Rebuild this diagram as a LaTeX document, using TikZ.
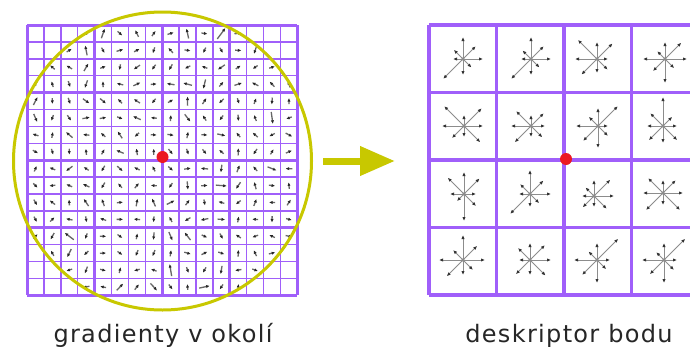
\documentclass[tikz,border=0pt]{standalone}
\usepackage{fontspec}
\setmainfont{DejaVu Sans}
\newfontfamily\labelfont[LetterSpace=5.5]{DejaVu Sans}
\usetikzlibrary{arrows.meta}
\definecolor{gridc}{RGB}{160,95,250}
\definecolor{ylw}{RGB}{200,200,0}
\definecolor{reddot}{RGB}{235,25,35}
\tikzset{
  thingrid/.style={draw=gridc, line width=1.5pt},
  thickgrid/.style={draw=gridc, line width=3pt},
  descgrid/.style={draw=gridc, line width=3.5pt},
  grad/.style={draw=black!60, line width=1.3pt, -{Latex[length=3.6pt,width=3.2pt,color=black!85]}},
  histo/.style={draw=black!45, line width=1pt, -{Latex[length=4pt,width=3.4pt,color=black!80]}},
  lbl/.style={font=\labelfont\fontsize{24}{28}\selectfont, anchor=base, text=black!85, inner sep=0pt},
  keydot/.style={circle, fill=reddot, minimum size=12pt, inner sep=0pt},
}
\newcommand\histcell[3]{%
  \fill[black!80] (#1,#2) circle (1.6pt);
  \foreach \r [count=\k from 0] in {#3}{%
    \draw[histo] (#1,#2) -- ++({cos(45*\k)*\r},{-sin(45*\k)*\r});
  }%
}
\begin{document}
\begin{tikzpicture}[x=1pt,y=-1pt]
\useasboundingbox (0,0) rectangle (690,351);
\fill[white] (0,0) rectangle (690,351);
% ---------- left grid ----------
\foreach \k in {0,...,16}{
  \draw[thingrid] ({27+16.9*\k},25) -- ({27+16.9*\k},295.4);
  \draw[thingrid] (27,{25+16.9*\k}) -- (297.4,{25+16.9*\k});
}
\foreach \k in {0,4,8,12,16}{
  \draw[thickgrid] ({27+16.9*\k},25) -- ({27+16.9*\k},295.4);
  \draw[thickgrid] (27,{25+16.9*\k}) -- (297.4,{25+16.9*\k});
}
% gradient arrows
\pgfmathsetseed{11}
\foreach \i in {0,...,15}{
  \foreach \j in {0,...,15}{
    \pgfmathsetmacro\cx{27+16.9*(\i+0.5)}
    \pgfmathsetmacro\cy{25+16.9*(\j+0.5)}
    \pgfmathsetmacro\dd{veclen(\cx-162.5,\cy-161)}
    \pgfmathsetmacro\ang{360*rnd}
    \pgfmathsetmacro\len{6+9*rnd*rnd*rnd}
    \ifdim\dd pt<152pt
      \draw[grad] ({\cx-0.5*\len*cos(\ang)},{\cy-0.5*\len*sin(\ang)}) -- ({\cx+0.5*\len*cos(\ang)},{\cy+0.5*\len*sin(\ang)});
    \fi
  }
}
% circle
\draw[ylw, line width=3pt] (162.5,161) circle (149pt);
\node[keydot] (kp1) at (162.5,157) {};
% ---------- arrow ----------
\coordinate (as) at (323,161);
\coordinate (ae) at (395,161);
\draw[ylw, line width=7pt, -{Triangle[length=35pt,width=28pt]}] (as) -- (ae);
% ---------- right grid ----------
\begin{scope}
\clip (0,0) rectangle (690,351);
\foreach \k in {0,...,4}{
  \draw[descgrid] ({429+67.5*\k},25) -- ({429+67.5*\k},295);
  \draw[descgrid] (429,{25+67.5*\k}) -- (702,{25+67.5*\k});
}
\histcell{463}{59}{20,18,22,13,10,28,16,12}
\histcell{531}{59}{20,18,22,12,10,28,16,12}
\histcell{597}{59}{11,22,17,27,22,22,14,15}
\histcell{665}{59}{22,23,17,11,22,17,24,13}
\histcell{464}{126}{19,25,11,28,22,17,11,23}
\histcell{531}{126}{14,18,11,21,20,23,11,16}
\histcell{598}{126}{10,28,18,13,22,21,22,14}
\histcell{663}{126}{14,13,29,18,16,20,17,20}
\histcell{464}{194}{12,22,22,23,14,10,27,17}
\histcell{530}{194}{21,19,24,14,11,28,13,13}
\histcell{594}{196}{20,23,16,12,12,16,11,18}
\histcell{663}{193}{20,18,13,21,20,24,12,24}
\histcell{463}{260}{22,20,25,14,24,23,15,14}
\histcell{530}{260}{21,21,17,17,11,20,15,22}
\histcell{597}{260}{13,30,17,12,23,21,23,13}
\histcell{664}{260}{13,30,17,11,22,20,23,14}
\end{scope}
\node[keydot] (kp2) at (566,159) {};
% ---------- labels ----------
\node[lbl] (l1) at (163,342) {gradienty v okolí};
\node[lbl] (l2) at (569,342) {deskriptor bodu};
\end{tikzpicture}
\end{document}
